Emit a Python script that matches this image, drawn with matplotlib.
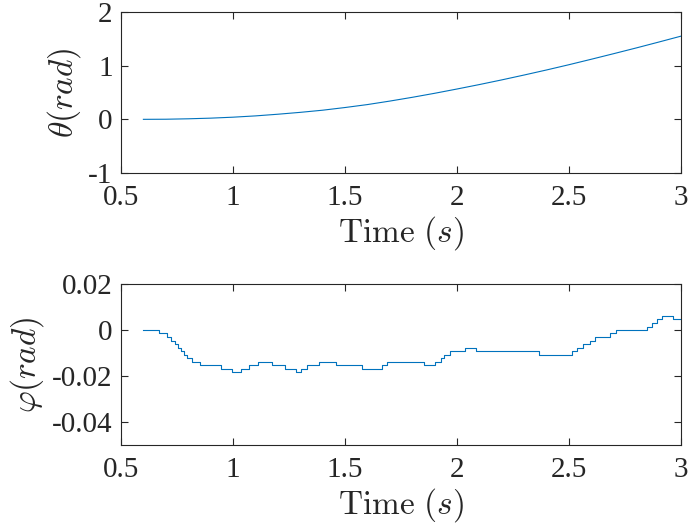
import matplotlib
matplotlib.use("Agg")
import matplotlib.pyplot as plt

# ---- data ----
theta_t = [0.6, 0.7, 0.8, 0.9, 1.0, 1.1, 1.2, 1.3, 1.4, 1.5, 1.6, 1.7, 1.8,
           1.9, 2.0, 2.1, 2.2, 2.3, 2.4, 2.5, 2.6, 2.7, 2.8, 2.9, 3.0]
theta_v = [0.000, 0.002, 0.010, 0.022, 0.040, 0.064, 0.095, 0.130, 0.170, 0.220,
           0.275, 0.340, 0.410, 0.485, 0.565, 0.648, 0.735, 0.826, 0.920, 1.018,
           1.120, 1.224, 1.330, 1.439, 1.550]

phi_t = [0.600, 0.671, 0.704, 0.723, 0.741, 0.756, 0.768, 0.781, 0.796, 0.815,
         0.853, 0.946, 0.997, 1.034, 1.071, 1.110, 1.173, 1.232, 1.283, 1.304,
         1.332, 1.385, 1.460, 1.576, 1.665, 1.688, 1.854, 1.902, 1.927, 1.943,
         1.969, 2.037, 2.083, 2.367, 2.515, 2.537, 2.561, 2.594, 2.617, 2.684,
         2.708, 2.847, 2.872, 2.891, 2.917, 2.963, 3.000]
phi_v = [0.0, -0.0015, -0.0031, -0.0046, -0.0061, -0.0077, -0.0092, -0.0107, -0.0123, -0.0138,
         -0.0153, -0.0169, -0.0184, -0.0169, -0.0153, -0.0138, -0.0153, -0.0169, -0.0184, -0.0169,
         -0.0153, -0.0138, -0.0153, -0.0169, -0.0153, -0.0138, -0.0153, -0.0138, -0.0123, -0.0107,
         -0.0092, -0.0077, -0.0092, -0.0107, -0.0092, -0.0077, -0.0061, -0.0046, -0.0031, -0.0015,
         0.0, 0.0015, 0.0031, 0.0046, 0.0061, 0.0046, 0.0046]

x_ticks = [0.5, 1, 1.5, 2, 2.5, 3]
x_labels = ["0.5", "1", "1.5", "2", "2.5", "3"]
theta_ticks = [-1, 0, 1, 2]
theta_labels = ["-1", "0", "1", "2"]
phi_ticks = [0.02, 0, -0.02, -0.04]
phi_labels = ["0.02", "0", "-0.02", "-0.04"]

plt.rcParams['font.family'] = ['Liberation Serif', 'DejaVu Serif']
plt.rcParams['mathtext.fontset'] = 'cm'
plt.rcParams['axes.unicode_minus'] = False

line_color = '#0072BD'
ax_color = '#262626'
tick_fs = 21
label_fs = 24

fig = plt.figure(figsize=(6.91, 5.31), dpi=100)
ax1 = fig.add_axes([0.1751, 0.6742, 0.8104, 0.3032])
ax2 = fig.add_axes([0.1751, 0.1620, 0.8104, 0.3032])

def style(ax):
    for s in ax.spines.values():
        s.set_color(ax_color)
        s.set_linewidth(0.8)
    ax.tick_params(direction='in', top=True, right=True, length=5, width=0.8,
                   colors=ax_color, labelsize=tick_fs)
    ax.tick_params(axis='x', pad=9)
    ax.tick_params(axis='y', pad=6)
    ax.set_xlim(0.5, 3)
    ax.set_xticks(x_ticks)
    ax.set_xticklabels(x_labels)
    ax.set_xlabel(r'$\mathrm{Time}\ (s)$', fontsize=label_fs, color=ax_color, labelpad=2)

ax1.plot(theta_t, theta_v, color=line_color, lw=0.8)
ax1.set_ylim(-1, 2)
ax1.set_yticks(theta_ticks)
ax1.set_yticklabels(theta_labels)
style(ax1)
ax1.set_ylabel(r'$\theta(rad)$', fontsize=label_fs, color=ax_color, labelpad=4)

ax2.step(phi_t, phi_v, where='post', color=line_color, lw=0.8)
ax2.set_ylim(-0.05, 0.02)
ax2.set_yticks(phi_ticks)
ax2.set_yticklabels(phi_labels)
style(ax2)
ax2.set_ylabel(r'$\varphi(rad)$', fontsize=label_fs, color=ax_color, labelpad=4)

fig.savefig('out.png', dpi=100)
